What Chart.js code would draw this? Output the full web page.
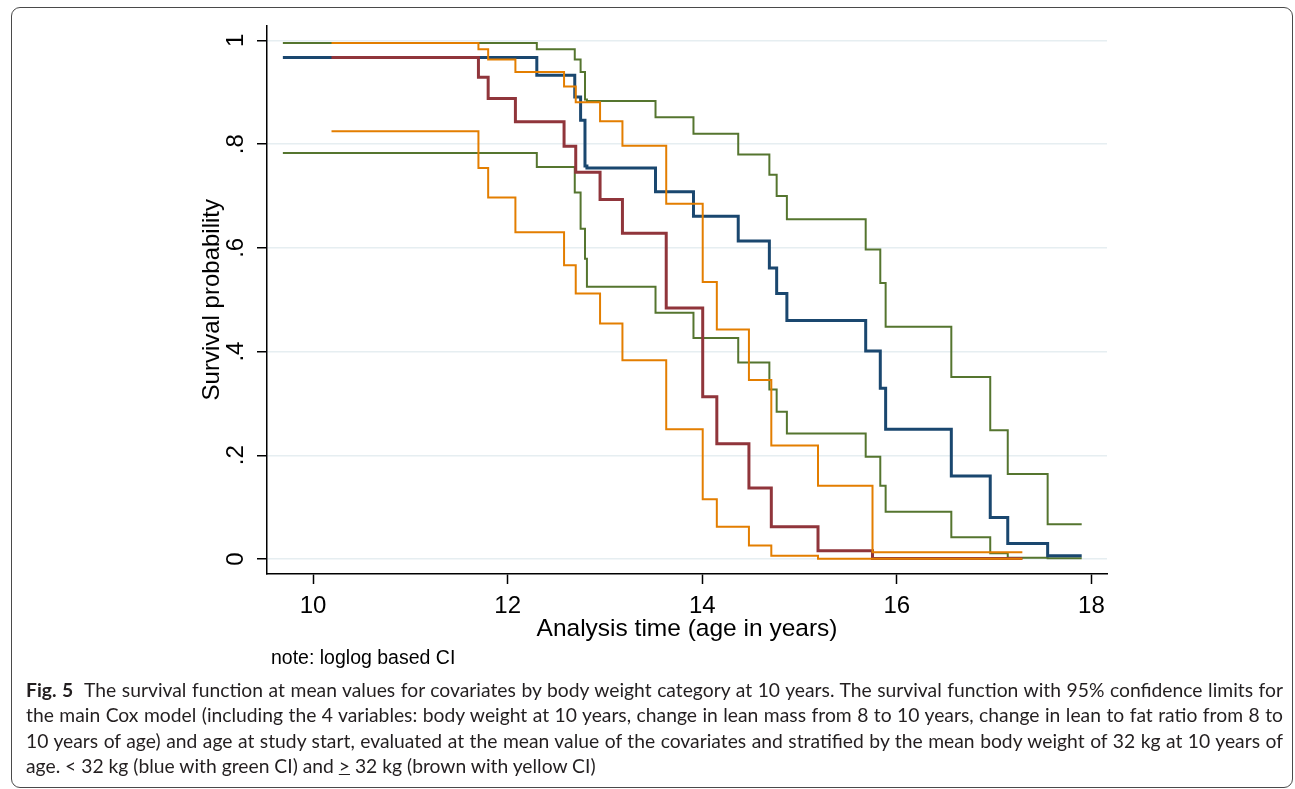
<!DOCTYPE html>
<html lang="en">
<head>
<meta charset="UTF-8">
<title>Fig. 5 survival function</title>
<script src="https://cdn.jsdelivr.net/npm/chart.js@4.4.1/dist/chart.umd.min.js"></script>
<style>
  html, body { margin: 0; padding: 0; background: #fff; }
  body { width: 1295px; height: 789px; position: relative; overflow: hidden; }
  #frame {
    position: absolute; left: 11px; top: 7px; width: 1282px; height: 781px;
    border: 1.5px solid #4a4a4a; border-radius: 9px; box-sizing: border-box;
  }
  #chart { position: absolute; left: 0; top: 0; }
  .note {
    position: absolute; left: 271px; top: 646px;
    font: 19.5px 'Liberation Sans', Arial, sans-serif;
    line-height: 22px; color: #000;
  }
  .caption {
    position: absolute; left: 26px; top: 677px; width: 1257px;
    font: 19.3px Lato, 'Noto Sans', sans-serif; line-height: 25.3px; color: #231f20;
  }
  .caption .j { text-align: justify; text-align-last: justify; white-space: nowrap; }
  .caption b { font-weight: 700; margin-right: 6px; }
</style>
</head>
<body>
<div id="frame"></div>
<canvas id="chart" width="1295" height="700"></canvas>
<div class="note">note: loglog based CI</div>
<div class="caption">
  <div class="j"><b>Fig. 5</b> The survival function at mean values for covariates by body weight category at 10 years. The survival function with 95% confidence limits for</div>
  <div class="j">the main Cox model (including the 4 variables: body weight at 10 years, change in lean mass from 8 to 10 years, change in lean to fat ratio from 8 to</div>
  <div class="j">10 years of age) and age at study start, evaluated at the mean value of the covariates and stratified by the mean body weight of 32 kg at 10 years of</div>
  <div>age. &lt; 32 kg (blue with green CI) and <u>&gt;</u> 32 kg (brown with yellow CI)</div>
</div>

<script>
// axis ticks
const xTickValues = [10, 12, 14, 16, 18];
const xTickLabels = ['10', '12', '14', '16', '18'];
const yTickValues = [0, 0.2, 0.4, 0.6, 0.8, 1];
const yTickLabels = ['0', '.2', '.4', '.6', '.8', '1'];

// < 32 kg: survival (blue) and CI (green), last entry = end of line
const lowTimes = [9.69, 12.30, 12.69, 12.75, 12.795, 12.815, 13.52, 13.91, 14.37, 14.69, 14.765, 14.87, 15.68, 15.83, 15.885, 16.56, 16.96, 17.14, 17.55, 17.90];
const lowSurv  = [0.967, 0.933, 0.891, 0.846, 0.758, 0.754, 0.708, 0.661, 0.613, 0.561, 0.512, 0.460, 0.401, 0.329, 0.250, 0.160, 0.080, 0.030, 0.006, 0.006];
const lowUpper = [0.995, 0.983, 0.963, 0.939, 0.886, 0.883, 0.852, 0.820, 0.780, 0.741, 0.700, 0.655, 0.597, 0.532, 0.448, 0.351, 0.248, 0.164, 0.067, 0.067];
const lowLower = [0.783, 0.756, 0.7065, 0.637, 0.579, 0.525, 0.475, 0.426, 0.379, 0.327, 0.284, 0.242, 0.197, 0.141, 0.091, 0.042, 0.011, 0.0025, 0.0015, 0.0015];

// >= 32 kg: survival (brown) and CI (orange)
const highTimes = [10.19, 11.70, 11.80, 12.08, 12.58, 12.70, 12.95, 13.18, 13.63, 14.005, 14.15, 14.48, 14.71, 15.19, 15.75, 17.29];
const highSurv  = [0.967, 0.929, 0.888, 0.843, 0.796, 0.746, 0.693, 0.628, 0.484, 0.313, 0.222, 0.137, 0.062, 0.016, 0.001, 0.001];
const highUpper = [0.995, 0.983, 0.963, 0.939, 0.911, 0.881, 0.844, 0.797, 0.685, 0.534, 0.4425, 0.345, 0.219, 0.141, 0.013, 0.013];
const highLower = [0.825, 0.754, 0.697, 0.630, 0.5665, 0.512, 0.454, 0.383, 0.250, 0.115, 0.062, 0.026, 0.006, 0.0005, 0.0005, 0.0005];

const FONT = "'Liberation Sans', Arial, sans-serif";

function pts(times, vals) {
  return times.map((t, i) => ({ x: t, y: vals[i] }));
}

function stepLine(times, vals, color, width) {
  return {
    data: pts(times, vals),
    borderColor: color,
    borderWidth: width,
    stepped: true,
    pointRadius: 0,
    fill: false,
    borderJoinStyle: 'miter',
    borderCapStyle: 'butt'
  };
}

// first dataset is drawn on top
const datasets = [
  stepLine(highTimes, highUpper, '#e37e00', 2),
  stepLine(highTimes, highLower, '#e37e00', 2),
  stepLine(highTimes, highSurv, '#90353b', 3),
  stepLine(lowTimes, lowSurv, '#1a476f', 3),
  stepLine(lowTimes, lowUpper, '#55752f', 2),
  stepLine(lowTimes, lowLower, '#55752f', 2)
];

new Chart(document.getElementById('chart'), {
  type: 'line',
  data: { datasets },
  options: {
    responsive: false,
    animation: false,
    layout: { padding: { left: 198, right: 188, top: 25, bottom: 0 } },
    plugins: { legend: { display: false }, tooltip: { enabled: false } },
    scales: {
      x: {
        type: 'linear',
        min: 9.527,
        max: 18.16,
        afterBuildTicks: (scale) => { scale.ticks = xTickValues.map(v => ({ value: v })); },
        afterFit: (scale) => { scale.height = 126; },
        grid: {
          drawOnChartArea: false, drawTicks: true, tickLength: 10,
          tickColor: '#000', tickWidth: 1.5
        },
        border: { display: true, color: '#000', width: 1.5 },
        ticks: {
          autoSkip: false, maxRotation: 0, padding: 8, color: '#000',
          font: { family: FONT, size: 24 },
          callback: (v, i) => xTickLabels[i]
        },
        title: {
          display: true, text: 'Analysis time (age in years)', color: '#000',
          font: { family: FONT, size: 24.5 }, padding: { top: 0, bottom: 56 }
        }
      },
      y: {
        min: -0.029,
        max: 1.029,
        afterBuildTicks: (scale) => { scale.ticks = yTickValues.map(v => ({ value: v })); },
        afterFit: (scale) => { scale.width = 69; },
        grid: {
          color: '#e6eef1', lineWidth: 1.5, drawTicks: true, tickLength: 10,
          tickColor: '#000', tickWidth: 1.5
        },
        border: { display: true, color: '#000', width: 1.5 },
        ticks: {
          autoSkip: false, minRotation: 90, maxRotation: 90, crossAlign: 'center',
          padding: 11, color: '#000',
          font: { family: FONT, size: 24 },
          callback: (v, i) => yTickLabels[i]
        },
        title: {
          display: true, text: 'Survival probability', color: '#000',
          font: { family: FONT, size: 24 }, padding: { top: 0, bottom: 0 }
        }
      }
    }
  }
});
</script>
</body>
</html>
